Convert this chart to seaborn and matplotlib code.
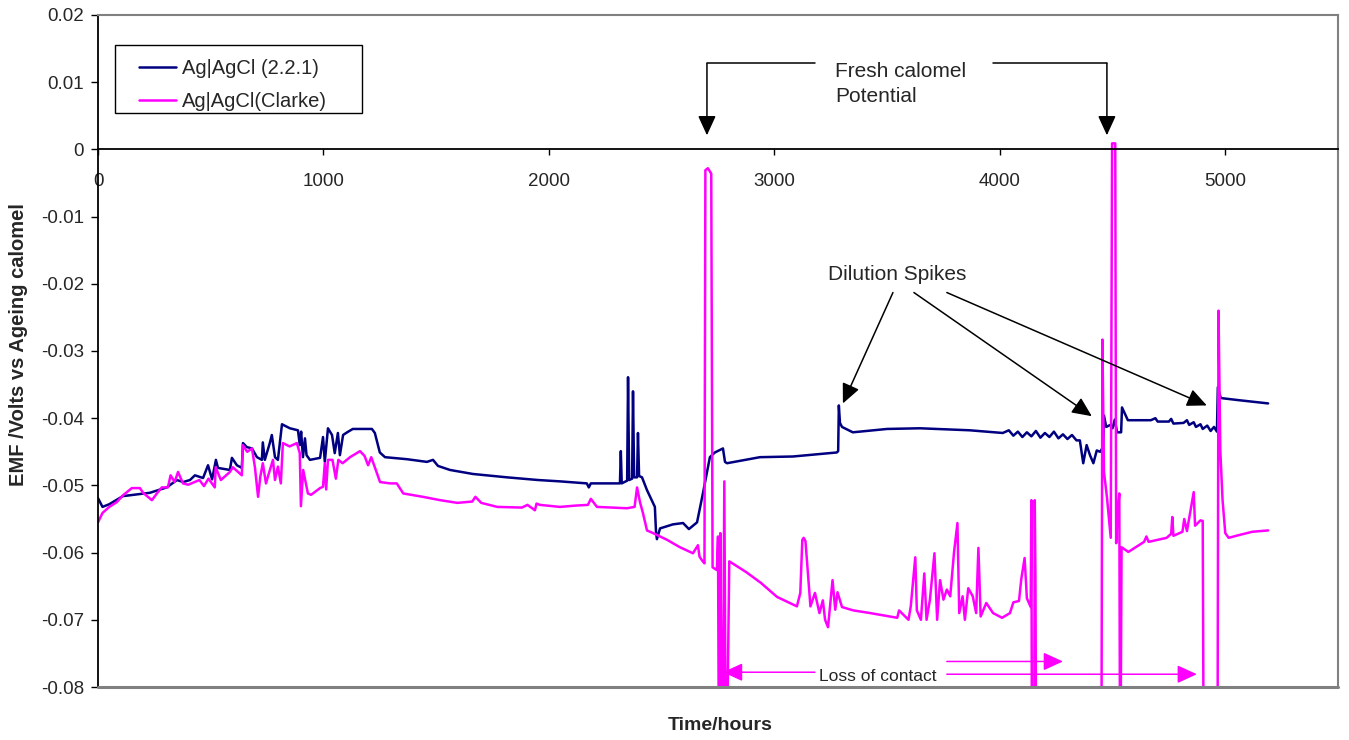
import matplotlib
matplotlib.use("Agg")
import matplotlib.pyplot as plt
from matplotlib.patches import Rectangle
from matplotlib.ticker import FuncFormatter, MultipleLocator
import pandas as pd
import seaborn as sns

sns.set_style("white")
plt.rcParams["font.family"] = ["Liberation Sans", "DejaVu Sans"]

series_labels = ["Ag|AgCl (2.2.1)", "Ag|AgCl(Clarke)"]
series_colors = ["#000080", "#FF00FF"]

# Ag|AgCl (2.2.1) electrode: time (hours) and EMF (V)
hours_221 = [
    0, 20, 50, 110, 230, 305, 350, 378, 408, 430,
    466, 488, 506, 523, 532, 585, 594, 616, 638, 643,
    660, 683, 705, 727, 731, 740, 762, 771, 785, 798,
    816, 851, 887, 895, 901, 909, 918, 925, 940, 985,
    998, 1006, 1020, 1038, 1050, 1064, 1073, 1087, 1105, 1130,
    1215, 1228, 1250, 1273, 1370, 1459, 1486, 1508, 1561, 1663,
    1814, 1952, 2049, 2168, 2177, 2186, 2315, 2319, 2323, 2347,
    2351, 2356, 2369, 2373, 2378, 2391, 2395, 2400, 2413, 2435,
    2462, 2470, 2475, 2479, 2493, 2550, 2595, 2621, 2657, 2683,
    2714, 2736, 2772, 2781, 2790, 2936, 3082, 3277, 3283, 3286,
    3291, 3300, 3348, 3500, 3646, 3867, 4013, 4040, 4060, 4080,
    4100, 4120, 4140, 4160, 4180, 4200, 4220, 4240, 4260, 4280,
    4300, 4320, 4340, 4355, 4370, 4385, 4400, 4415, 4430, 4445,
    4458, 4462, 4472, 4490, 4500, 4510, 4520, 4538, 4542, 4568,
    4670, 4690, 4700, 4750, 4760, 4770, 4815, 4830, 4840, 4860,
    4870, 4890, 4900, 4920, 4935, 4950, 4963, 4967, 4980, 5055,
    5190,
]
emf_221 = [
    -0.0519, -0.0532, -0.0528, -0.0516, -0.0511, -0.0503, -0.0492, -0.0495, -0.0492, -0.0485,
    -0.0489, -0.0470, -0.0491, -0.0462, -0.0474, -0.0477, -0.0459, -0.0470, -0.0474, -0.0437,
    -0.0443, -0.0445, -0.0458, -0.0462, -0.0436, -0.0462, -0.0437, -0.0425, -0.0458, -0.0462,
    -0.0409, -0.0415, -0.0418, -0.0440, -0.0420, -0.0458, -0.0430, -0.0455, -0.0462, -0.0459,
    -0.0428, -0.0465, -0.0415, -0.0425, -0.0452, -0.0422, -0.0455, -0.0425, -0.0421, -0.0416,
    -0.0416, -0.0422, -0.0451, -0.0458, -0.0461, -0.0465, -0.0462, -0.0471, -0.0477, -0.0483,
    -0.0488, -0.0492, -0.0494, -0.0497, -0.0503, -0.0497, -0.0497, -0.0449, -0.0497, -0.0493,
    -0.0339, -0.0492, -0.0490, -0.0360, -0.0488, -0.0488, -0.0422, -0.0486, -0.0488, -0.0507,
    -0.0526, -0.0532, -0.0569, -0.0580, -0.0564, -0.0558, -0.0556, -0.0565, -0.0555, -0.0512,
    -0.0458, -0.0451, -0.0445, -0.0465, -0.0467, -0.0458, -0.0457, -0.0451, -0.0449, -0.0381,
    -0.0407, -0.0413, -0.0421, -0.0416, -0.0415, -0.0418, -0.0422, -0.0418, -0.0426, -0.0420,
    -0.0428, -0.0421, -0.0427, -0.0419, -0.0429, -0.0422, -0.0428, -0.0420, -0.0430, -0.0424,
    -0.0431, -0.0425, -0.0433, -0.0433, -0.0467, -0.0440, -0.0455, -0.0467, -0.0448, -0.0450,
    -0.0443, -0.0396, -0.0413, -0.0410, -0.0415, -0.0402, -0.0421, -0.0421, -0.0384, -0.0403,
    -0.0403, -0.0400, -0.0405, -0.0405, -0.0401, -0.0408, -0.0407, -0.0403, -0.0410, -0.0406,
    -0.0413, -0.0409, -0.0416, -0.0411, -0.0419, -0.0413, -0.0420, -0.0354, -0.0370, -0.0373,
    -0.0378,
]

# Ag|AgCl (Clarke) electrode; -0.1 marks readings lost below the scale
hours_clarke = [
    0, 20, 50, 83, 110, 150, 186, 200, 239, 261,
    283, 310, 322, 340, 355, 377, 400, 450, 470, 490,
    518, 522, 545, 585, 598, 638, 642, 662, 683, 696,
    710, 720, 731, 745, 758, 776, 785, 798, 811, 820,
    850, 882, 895, 900, 910, 931, 945, 985, 998, 1006,
    1012, 1020, 1040, 1055, 1066, 1085, 1118, 1162, 1182, 1198,
    1212, 1229, 1251, 1296, 1325, 1354, 1441, 1518, 1594, 1660,
    1674, 1700, 1771, 1880, 1905, 1938, 1945, 1960, 2049, 2120,
    2173, 2186, 2213, 2346, 2380, 2391, 2404, 2417, 2435, 2462,
    2524, 2581, 2639, 2661, 2668, 2680, 2690, 2694, 2705, 2720,
    2726, 2745, 2750, 2755, 2760, 2770, 2778, 2786, 2800, 2875,
    2940, 3012, 3100, 3115, 3124, 3130, 3138, 3160, 3180, 3200,
    3215, 3225, 3238, 3250, 3258, 3270, 3280, 3300, 3350, 3425,
    3545, 3553, 3595, 3605, 3625, 3632, 3650, 3665, 3675, 3690,
    3710, 3722, 3735, 3750, 3765, 3780, 3797, 3812, 3820, 3835,
    3845, 3860, 3880, 3895, 3905, 3915, 3940, 3970, 4010, 4045,
    4060, 4085, 4095, 4110, 4120, 4137, 4140, 4143, 4152, 4155,
    4158, 4162, 4450, 4455, 4462, 4475, 4492, 4498, 4512, 4516,
    4522, 4530, 4534, 4540, 4570, 4640, 4650, 4660, 4740, 4760,
    4765, 4770, 4810, 4818, 4830, 4860, 4866, 4890, 4900, 4905,
    4965, 4970, 4978, 4988, 5000, 5015, 5060, 5120, 5190,
]
emf_clarke = [
    -0.0555, -0.0541, -0.0532, -0.0525, -0.0515, -0.0504, -0.0504, -0.0511, -0.0522, -0.0512,
    -0.0503, -0.0503, -0.0485, -0.0495, -0.0480, -0.0497, -0.0499, -0.0492, -0.0501, -0.0490,
    -0.0503, -0.0473, -0.0492, -0.0480, -0.0473, -0.0485, -0.0440, -0.0450, -0.0445, -0.0473,
    -0.0517, -0.0487, -0.0467, -0.0497, -0.0482, -0.0462, -0.0492, -0.0472, -0.0497, -0.0437,
    -0.0442, -0.0437, -0.0452, -0.0531, -0.0477, -0.0512, -0.0514, -0.0504, -0.0502, -0.0467,
    -0.0506, -0.0462, -0.0462, -0.0490, -0.0462, -0.0467, -0.0458, -0.0449, -0.0456, -0.0470,
    -0.0458, -0.0474, -0.0495, -0.0497, -0.0497, -0.0512, -0.0517, -0.0522, -0.0526, -0.0524,
    -0.0517, -0.0526, -0.0532, -0.0533, -0.0529, -0.0537, -0.0527, -0.0529, -0.0532, -0.0530,
    -0.0529, -0.0520, -0.0532, -0.0534, -0.0532, -0.0503, -0.0525, -0.0541, -0.0567, -0.0571,
    -0.0581, -0.0592, -0.0601, -0.0589, -0.0606, -0.0612, -0.0616, -0.0031, -0.0028, -0.0036,
    -0.0622, -0.0626, -0.0576, -0.1, -0.0571, -0.1, -0.0494, -0.1, -0.0613, -0.0629,
    -0.0645, -0.0666, -0.0680, -0.0660, -0.0581, -0.0578, -0.0583, -0.0680, -0.0660, -0.0690,
    -0.0671, -0.0700, -0.0711, -0.0670, -0.0641, -0.0685, -0.0659, -0.0681, -0.0686, -0.0690,
    -0.0697, -0.0686, -0.0700, -0.0680, -0.0607, -0.0686, -0.0700, -0.0631, -0.0700, -0.0670,
    -0.0601, -0.0700, -0.0641, -0.0670, -0.0655, -0.0665, -0.0599, -0.0556, -0.0690, -0.0665,
    -0.0700, -0.0653, -0.0665, -0.0690, -0.0593, -0.0695, -0.0675, -0.0690, -0.0697, -0.0690,
    -0.0674, -0.0672, -0.0640, -0.0608, -0.0668, -0.0681, -0.0522, -0.1, -0.1, -0.0522,
    -0.0636, -0.1, -0.1, -0.0283, -0.0480, -0.0517, -0.0578, 0.0009, 0.0009, -0.0586,
    -0.0543, -0.0512, -0.1, -0.0592, -0.0599, -0.0584, -0.0576, -0.0584, -0.0578, -0.0572,
    -0.0547, -0.0575, -0.0569, -0.0550, -0.0568, -0.0510, -0.0560, -0.0552, -0.0553, -0.1,
    -0.1, -0.0240, -0.0448, -0.0522, -0.0571, -0.0578, -0.0574, -0.0569, -0.0567,
]

x_limits = (0, 5500)
y_limits = (-0.08, 0.02)

df_221 = pd.DataFrame({"hours": hours_221, "emf": emf_221})
df_clarke = pd.DataFrame({"hours": hours_clarke, "emf": emf_clarke})

fig = plt.figure(figsize=(13.49, 7.40), dpi=100)
ax = fig.add_axes([98 / 1349, 1 - 687 / 740, 1240 / 1349, 672 / 740])

sns.lineplot(data=df_221, x="hours", y="emf", ax=ax, color=series_colors[0],
             lw=1.8, estimator=None, sort=False, label=series_labels[0])
sns.lineplot(data=df_clarke, x="hours", y="emf", ax=ax, color=series_colors[1],
             lw=1.8, estimator=None, sort=False, label=series_labels[1])

ax.set_xlim(*x_limits)
ax.set_ylim(*y_limits)
ax.set_xlabel("")
ax.set_ylabel("")

# axes: black y-axis, x-axis crossing at zero, grey plot-area border
ax.spines["left"].set_color("black")
ax.spines["left"].set_linewidth(1.3)
ax.spines["bottom"].set_position(("data", 0))
ax.spines["bottom"].set_color("black")
ax.spines["bottom"].set_linewidth(1.3)
for side in ("top", "right"):
    ax.spines[side].set_visible(True)
    ax.spines[side].set_color("#808080")
    ax.spines[side].set_linewidth(1.5)
ax.plot([0, 1], [0, 0], transform=ax.transAxes, color="#808080", lw=2.2,
        clip_on=False, zorder=5)

ax.xaxis.set_major_locator(MultipleLocator(1000))
ax.yaxis.set_major_locator(MultipleLocator(0.01))


def fmt_y(v, pos):
    if abs(v) < 1e-9:
        return "0"
    return f"{v:.2f}".replace("\u2212", "-")


ax.yaxis.set_major_formatter(FuncFormatter(fmt_y))
ax.tick_params(axis="x", direction="out", length=4, width=1, color="black",
               labelsize=13.5, pad=13)
ax.tick_params(axis="y", direction="out", length=5, width=1, color="black",
               labelsize=13.5, pad=5, left=True)
ax.tick_params(axis="x", bottom=True)

fig.text(720 / 1349, 1 - 726 / 740, "Time/hours", ha="center", va="center",
         fontsize=14, fontweight="bold")
fig.text(19 / 1349, 1 - 345 / 740, "EMF /Volts vs Ageing calomel", ha="center",
         va="center", rotation=90, fontsize=14.5, fontweight="bold")

# legend with a plain rectangular frame
leg = ax.legend(loc="upper left", bbox_to_anchor=((139 - 98) / 1240, (687 - 59) / 672),
                frameon=False, fontsize=14.5, handlelength=1.85, handletextpad=0.3,
                borderpad=0, borderaxespad=0, labelspacing=0.72)
for line in leg.get_lines():
    line.set_linewidth(1.8)
ax.add_patch(Rectangle(((115 - 98) / 1240, (687 - 113) / 672), (362 - 115) / 1240,
                       (113 - 45) / 672, transform=ax.transAxes, fill=False,
                       ec="black", lw=1.0, zorder=6))

head = "-|>,head_length=1.2,head_width=0.55"

# "Fresh calomel Potential" bracket
ax.text(3269, 0.00975, "Fresh calomel\nPotential", ha="left", va="center",
        fontsize=15, linespacing=1.45)
ax.plot([2701, 3180], [0.0128, 0.0128], color="black", lw=1.1)
ax.plot([3969, 4475], [0.0128, 0.0128], color="black", lw=1.1)
for tx in (2701, 4475):
    ax.annotate("", xy=(tx, 0.0021), xytext=(tx, 0.0128),
                arrowprops=dict(arrowstyle=head, color="black", lw=1.1,
                                mutation_scale=10, shrinkA=0, shrinkB=0))

# "Dilution Spikes"
ax.text(3544, -0.0186, "Dilution Spikes", ha="center", va="center", fontsize=15)
for (sx, tx, ty) in ((3526, 3304, -0.0378), (3619, 4408, -0.0397), (3765, 4918, -0.0381)):
    ax.annotate("", xy=(tx, ty), xytext=(sx, -0.0213),
                arrowprops=dict(arrowstyle=head, color="black", lw=1.1,
                                mutation_scale=10, shrinkA=0, shrinkB=0))

# "Loss of contact"
ax.text(3460, -0.0784, "Loss of contact", ha="center", va="center", fontsize=12.5)
for (sx, tx, ty) in ((3180, 2772, -0.0778), (3765, 4280, -0.0762), (3765, 4874, -0.0781)):
    ax.annotate("", xy=(tx, ty), xytext=(sx, ty),
                arrowprops=dict(arrowstyle=head, color="#FF00FF", lw=1.1,
                                mutation_scale=10, shrinkA=0, shrinkB=0))

fig.savefig("out.png", dpi=100)
